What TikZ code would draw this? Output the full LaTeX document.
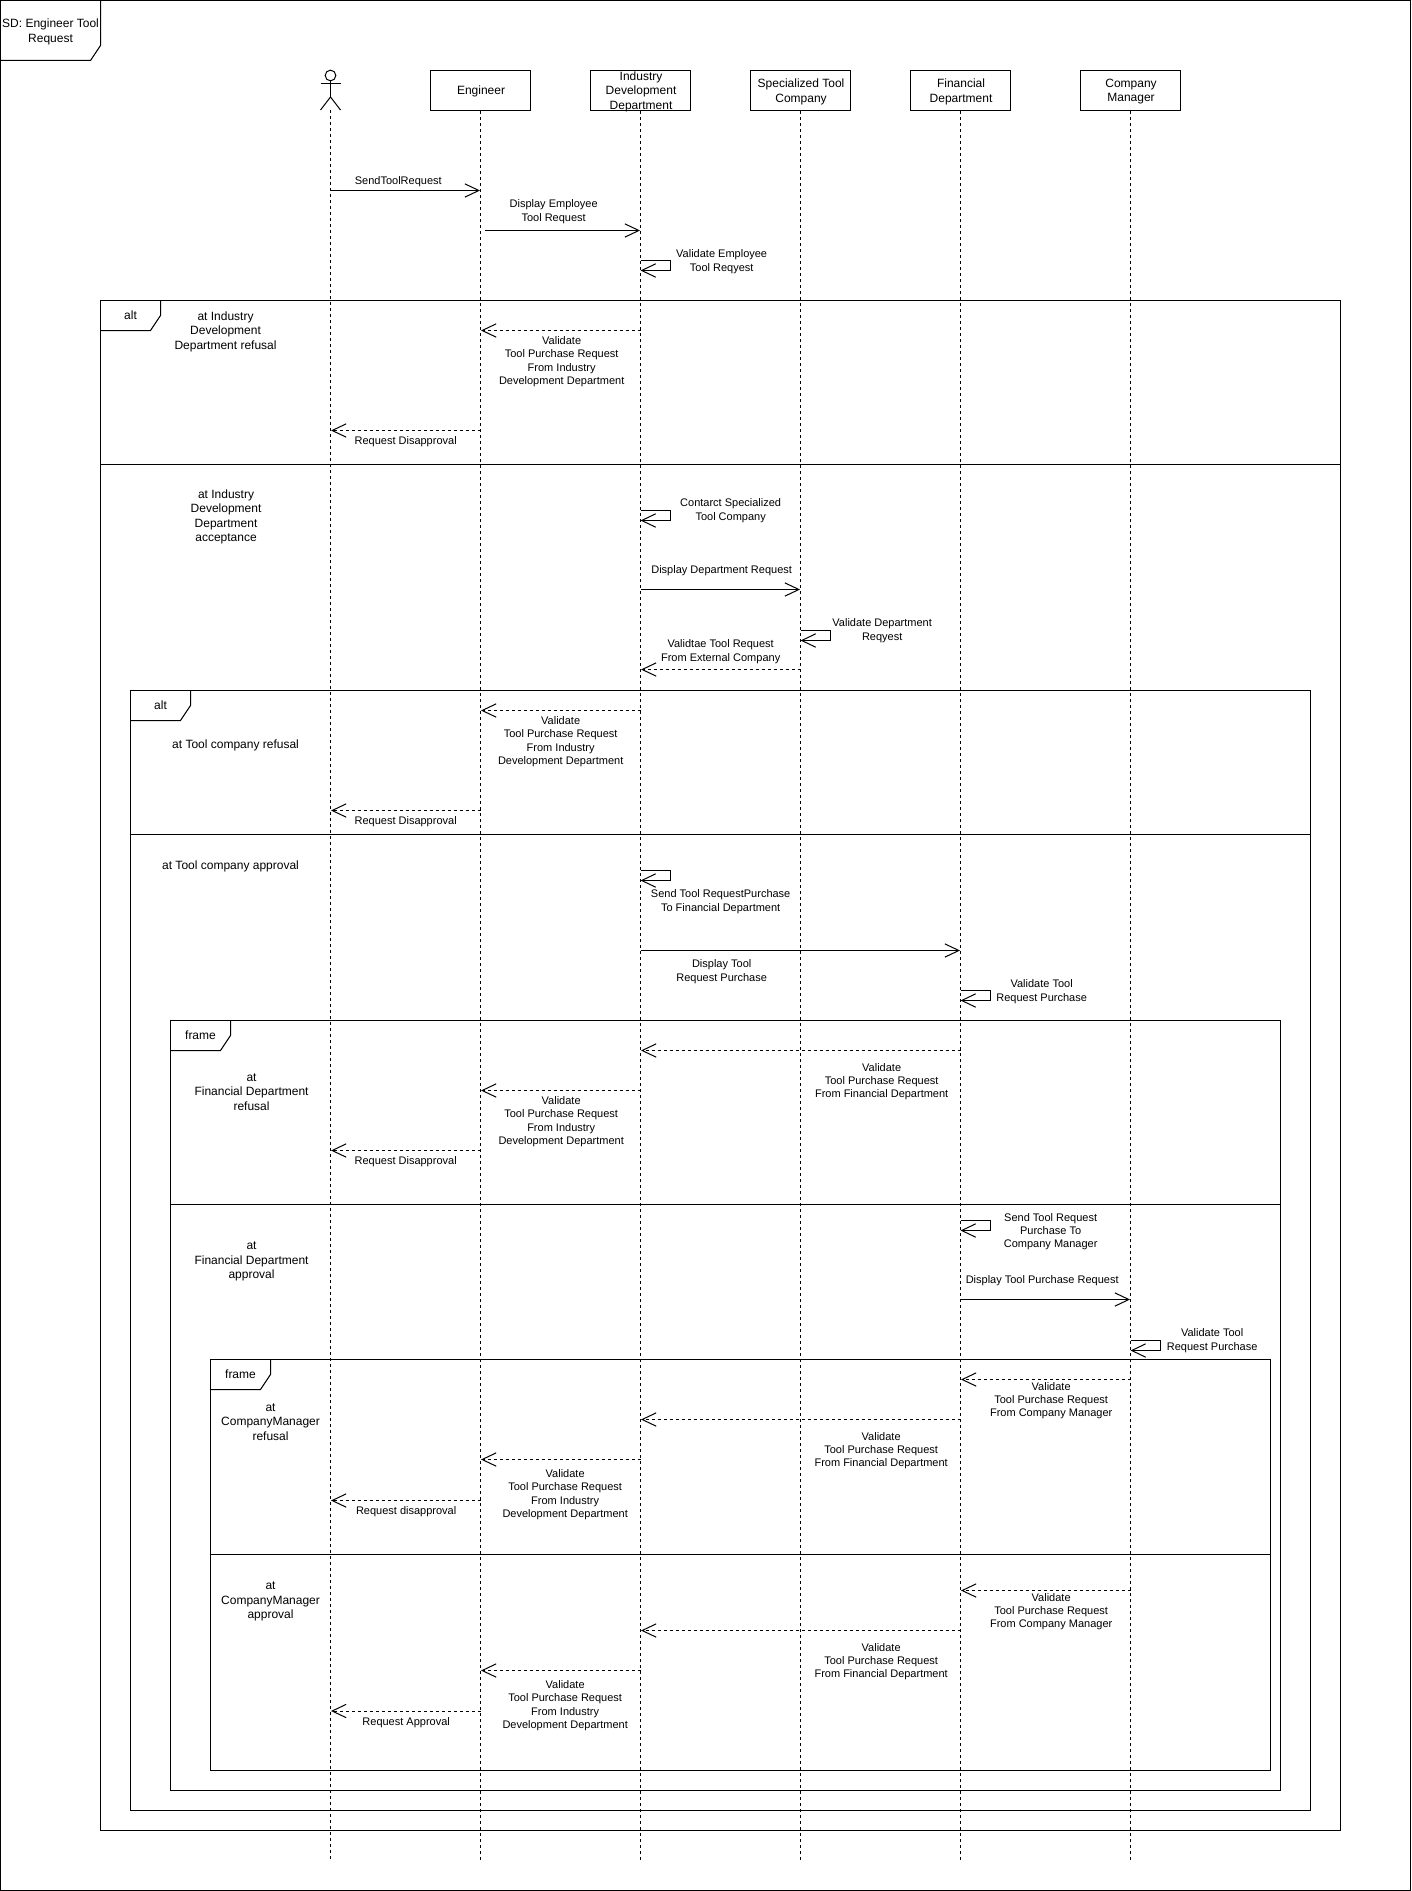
\documentclass[tikz,border=0pt]{standalone}
\usepackage{fontspec}
\setmainfont{Liberation Sans}
\usetikzlibrary{arrows.meta}
\tikzset{
  every path/.style={line width=0.75pt},
  head/.style={draw,rectangle,minimum width=75pt,minimum height=30pt,inner sep=0pt},
  lifeline/.style={dash pattern=on 2.25pt off 2.25pt},
  call/.style={-{Straight Barb[length=10.5pt,width=10pt]}},
  reply/.style={call,dash pattern=on 2.25pt off 2.25pt},
  lbl/.style={inner sep=0pt,align=center,font=\fontsize{8.25}{10}\selectfont,xshift=0.5pt,yshift=-1.3pt},
  cond/.style={inner sep=0pt,align=center,font=\fontsize{9}{10.9}\selectfont,xshift=0.4pt,yshift=-1.3pt},
  tabl/.style={inner sep=0pt,font=\fontsize{9}{10.9}\selectfont},
}
\newcommand\Msg[5]{\coordinate (#2a) at (#3,#5); \coordinate (#2b) at (#4,#5); \draw[#1] (#2a) -- (#2b);}
\newcommand\SelfMsg[3]{\coordinate (#1a) at (#2,#3); \coordinate (#1b) at (#2,#3+10); \draw[call] (#1a) -- ++(30,0) -- ++(0,10) -- (#1b);}
\newcommand\Fragment[4]{\draw (#1,#2) rectangle (#3,#4);}
\begin{document}
\begin{tikzpicture}[x=0.75pt,y=-0.75pt]
\useasboundingbox (0,0) rectangle (1411,1891);
% outer frame
\draw (0.5,0.5) rectangle (1410.5,1890.5);
\draw (0.5,60.5) -- (90.5,60.5) -- (100.5,45.5) -- (100.5,0.5);
\node[cond] (title) at (50,30) {SD: Engineer Tool\\Request};
% actor
\node[draw,circle,minimum size=8pt,inner sep=0pt] (actorhead) at (330.5,75.5) {};
\coordinate (actorhip) at (330.5,97);
\coordinate (actorarmL) at (320.5,84);
\coordinate (actorarmR) at (340.5,84);
\coordinate (actorlegL) at (320.5,110);
\coordinate (actorlegR) at (340.5,110);
\draw (actorhead.south) -- (actorhip);
\draw (actorarmL) -- (actorarmR);
\draw (actorlegL) -- (actorhip) -- (actorlegR);
% lifeline heads
\node[head] (eng) at (480.5,90.5) {};
\node[head] (idd) at (640.5,90.5) {};
\node[head] (stc) at (800.5,90.5) {};
\node[head] (fin) at (960.5,90.5) {};
\node[head] (mgr) at (1130.5,90.5) {};
\node[cond] (engt) at (480.5,90) {Engineer};
\node[cond] (iddt) at (640.5,90) {Industry\\Development\\Department};
\node[cond] (stct) at (800.5,90) {Specialized Tool\\Company};
\node[cond] (fint) at (960.5,90) {Financial\\Department};
\node[cond] (mgrt) at (1130.5,90) {Company\\Manager};
% lifeline ends
\coordinate (actorend) at (330.5,1860);
\coordinate (engend) at (480.5,1860);
\coordinate (iddend) at (640.5,1860);
\coordinate (stcend) at (800.5,1860);
\coordinate (finend) at (960.5,1860);
\coordinate (mgrend) at (1130.5,1860);
\coordinate (actorstart) at (330.5,110);
\draw[lifeline] (actorstart) -- (actorend);
\draw[lifeline] (eng.south) -- (engend);
\draw[lifeline] (idd.south) -- (iddend);
\draw[lifeline] (stc.south) -- (stcend);
\draw[lifeline] (fin.south) -- (finend);
\draw[lifeline] (mgr.south) -- (mgrend);
% fragments
\Fragment{100.5}{300.5}{1340.5}{1830.5}
\draw (100.5,330.5) -- (150.5,330.5) -- (160.5,315.5) -- (160.5,300.5);
\node[tabl] (tabA) at (130.5,315) {alt};
\draw (100.5,464.5) -- (1340.5,464.5);
\Fragment{130.5}{690.5}{1310.5}{1810.5}
\draw (130.5,720.5) -- (180.5,720.5) -- (190.5,705.5) -- (190.5,690.5);
\node[tabl] (tabB) at (160.5,705) {alt};
\draw (130.5,834.5) -- (1310.5,834.5);
\Fragment{170.5}{1020.5}{1280.5}{1790.5}
\draw (170.5,1050.5) -- (220.5,1050.5) -- (230.5,1035.5) -- (230.5,1020.5);
\node[tabl] (tabC) at (200.5,1035) {frame};
\draw (170.5,1204.5) -- (1280.5,1204.5);
\Fragment{210.5}{1359.5}{1270.5}{1770.5}
\draw (210.5,1389.5) -- (260.5,1389.5) -- (270.5,1374.5) -- (270.5,1359.5);
\node[tabl] (tabD) at (240.5,1374) {frame};
\draw (210.5,1554.5) -- (1270.5,1554.5);
% guards
\node[cond] (g1) at (225,330) {at Industry\\Development\\Department refusal};
\node[cond] (g2) at (225.5,515) {at Industry\\Development\\Department\\acceptance};
\node[cond] (g3) at (235,744) {at Tool company refusal};
\node[cond] (g4) at (230,865) {at Tool company approval};
\node[cond] (g5) at (251,1090) {at\\Financial Department\\refusal};
\node[cond] (g6) at (251,1260) {at\\Financial Department\\approval};
\node[cond] (g7) at (270,1420) {at\\CompanyManager\\refusal};
\node[cond] (g8) at (270,1600) {at\\CompanyManager\\approval};
% messages
\Msg{call}{m1}{330.5}{480}{190.5}
\node[lbl] (l1) at (397.6,180) {SendToolRequest};
\Msg{call}{m2}{485}{640}{230.5}
\node[lbl] (l2) at (553,210) {Display Employee\\Tool Request};
\SelfMsg{m3}{640.5}{260.5}
\node[lbl] (l3) at (721,260) {Validate Employee\\Tool Reqyest};
\Msg{reply}{m4}{640.5}{481}{330.5}
\node[lbl] (l4) at (561,360) {Validate\\Tool Purchase Request\\From Industry\\Development Department};
\Msg{reply}{m5}{480.5}{331}{430.5}
\node[lbl] (l5) at (405,440) {Request Disapproval};
\SelfMsg{m6}{640.5}{510.5}
\node[lbl] (l6) at (730,509) {Contarct Specialized\\Tool Company};
\Msg{call}{m7}{640.5}{800}{589.5}
\node[lbl] (l7) at (721,569) {Display Department Request};
\SelfMsg{m8}{800.5}{630.5}
\node[lbl] (l8) at (881.5,629) {Validate Department\\Reqyest};
\Msg{reply}{m9}{800.5}{641}{669.5}
\node[lbl] (l9) at (720,650) {Validtae Tool Request\\From External Company};
\Msg{reply}{m10}{640.5}{481}{710.5}
\node[lbl] (l10) at (560,740) {Validate\\Tool Purchase Request\\From Industry\\Development Department};
\Msg{reply}{m11}{480.5}{331}{810.5}
\node[lbl] (l11) at (405,820) {Request Disapproval};
\SelfMsg{m12}{640.5}{870.5}
\node[lbl] (l12) at (720,900) {Send Tool RequestPurchase\\To Financial Department};
\Msg{call}{m13}{640.5}{960}{950.5}
\node[lbl] (l13) at (721,970) {Display Tool\\Request Purchase};
\SelfMsg{m14}{960.5}{990.5}
\node[lbl] (l14) at (1041,990) {Validate Tool\\Request Purchase};
\Msg{reply}{m15}{960.5}{641}{1050.5}
\node[lbl] (l15) at (881,1080) {Validate\\Tool Purchase Request\\From Financial Department};
\Msg{reply}{m16}{640.5}{481}{1090.5}
\node[lbl] (l16) at (560.5,1120) {Validate\\Tool Purchase Request\\From Industry\\Development Department};
\Msg{reply}{m17}{480.5}{331}{1150.5}
\node[lbl] (l17) at (405,1160) {Request Disapproval};
\SelfMsg{m18}{960.5}{1220.5}
\node[lbl] (l18) at (1050,1230) {Send Tool Request\\Purchase To\\Company Manager};
\Msg{call}{m19}{960.5}{1130}{1299.5}
\node[lbl] (l19) at (1041.5,1279) {Display Tool Purchase Request};
\SelfMsg{m20}{1130.5}{1340.5}
\node[lbl] (l20) at (1211.5,1339) {Validate Tool\\Request Purchase};
\Msg{reply}{m21}{1130.5}{961}{1379.5}
\node[lbl] (l21) at (1050.5,1399) {Validate\\Tool Purchase Request\\From Company Manager};
\Msg{reply}{m22}{960.5}{641}{1419.5}
\node[lbl] (l22) at (880.5,1449) {Validate\\Tool Purchase Request\\From Financial Department};
\Msg{reply}{m23}{640.5}{481}{1459.5}
\node[lbl] (l23) at (564.5,1493) {Validate\\Tool Purchase Request\\From Industry\\Development Department};
\Msg{reply}{m24}{480.5}{331}{1500.5}
\node[lbl] (l24) at (405.5,1510) {Request disapproval};
\Msg{reply}{m25}{1130.5}{961}{1590.5}
\node[lbl] (l25) at (1050.5,1610) {Validate\\Tool Purchase Request\\From Company Manager};
\Msg{reply}{m26}{960.5}{641}{1630.5}
\node[lbl] (l26) at (880.5,1660) {Validate\\Tool Purchase Request\\From Financial Department};
\Msg{reply}{m27}{640.5}{481}{1670.5}
\node[lbl] (l27) at (564.5,1704) {Validate\\Tool Purchase Request\\From Industry\\Development Department};
\Msg{reply}{m28}{480.5}{331}{1711}
\node[lbl] (l28) at (405.5,1721) {Request Approval};
\end{tikzpicture}
\end{document}
